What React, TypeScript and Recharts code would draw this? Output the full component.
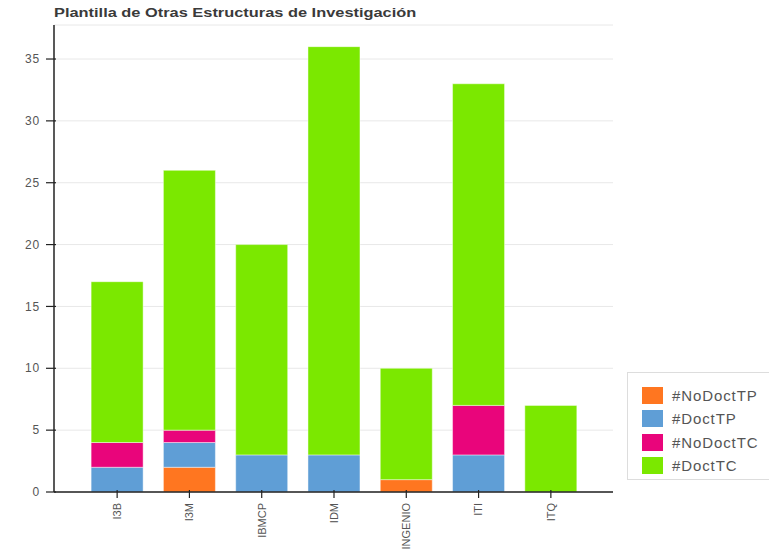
import React from "react";
import { BarChart, Bar, XAxis, YAxis, CartesianGrid, Legend } from "recharts";

const categories = ["I3B", "I3M", "IBMCP", "IDM", "INGENIO", "ITI", "ITQ"];
const noDoctTP = [0, 2, 0, 0, 1, 0, 0];
const doctTP = [2, 2, 3, 3, 0, 3, 0];
const noDoctTC = [2, 1, 0, 0, 0, 4, 0];
const doctTC = [13, 21, 17, 33, 9, 26, 7];
const yTicks = [0, 5, 10, 15, 20, 25, 30, 35];
const title = "Plantilla de Otras Estructuras de Investigación";

const series = [
  { key: "#NoDoctTP", values: noDoctTP, color: "#FF7620" },
  { key: "#DoctTP", values: doctTP, color: "#5F9ED6" },
  { key: "#NoDoctTC", values: noDoctTC, color: "#E9057B" },
  { key: "#DoctTC", values: doctTC, color: "#7BE800" },
];

const data = categories.map((c, i) => {
  const row: any = { name: c };
  series.forEach((s) => (row[s.key] = s.values[i]));
  return row;
});

const FONT = "'Liberation Sans', Arial, Helvetica, sans-serif";

const YTick = (props: any) => {
  const { x, y, payload } = props;
  return (
    <g>
      <line x1={x - 8} x2={x + 2} y1={y} y2={y} stroke="#222" strokeWidth={1.2} />
      <text x={x - 14} y={y} dy="0.35em" textAnchor="end" fontSize={12} fill="#555" fontFamily={FONT} letterSpacing={0.8}>
        {payload.value}
      </text>
    </g>
  );
};

const XTick = (props: any) => {
  const { x, y, payload } = props;
  const ty = y + 11;
  return (
    <g>
      <line x1={x} x2={x} y1={y - 2} y2={y + 6} stroke="#222" strokeWidth={1.2} />
      <text
        x={x}
        y={ty}
        dy="0.35em"
        textAnchor="end"
        fontSize={11}
        fill="#555"
        fontFamily={FONT}
        transform={`rotate(-90, ${x}, ${ty})`}
      >
        {payload.value}
      </text>
    </g>
  );
};

const LegendBox = () => (
  <div
    style={{
      border: "1px solid #ddd",
      width: 150,
      height: 108,
      boxSizing: "border-box",
      padding: "11px 0 0 14px",
      background: "#fff",
    }}
  >
    {series.map((s) => (
      <div key={s.key} style={{ display: "flex", alignItems: "center", height: 23.3 }}>
        <div style={{ width: 21, height: 17, background: s.color, marginRight: 9 }} />
        <span style={{ fontFamily: FONT, fontSize: 15, color: "#555", letterSpacing: 0.9 }}>{s.key}</span>
      </div>
    ))}
  </div>
);

export default function App() {
  return (
    <div style={{ position: "absolute", left: 0, top: 0, width: 769, height: 551, background: "#fff", overflow: "hidden" }}>
      <div
        style={{
          position: "absolute",
          left: 54,
          top: 5,
          fontFamily: FONT,
          fontWeight: "bold",
          fontSize: 13,
          color: "#3a3a3a",
          whiteSpace: "nowrap",
          transform: "scaleX(1.26)",
          transformOrigin: "left top",
        }}
      >
        {title}
      </div>
      <BarChart
        width={769}
        height={551}
        data={data}
        margin={{ top: 25, right: 6, bottom: 0, left: 0 }}
        barCategoryGap="14%"
      >
        <CartesianGrid vertical={false} stroke="#e8e8e8" />
        <XAxis
          dataKey="name"
          height={59}
          tickSize={0}
          tickMargin={0}
          tick={<XTick />}
          axisLine={{ stroke: "#222", strokeWidth: 1.5 }}
          tickLine={false}
          padding={{ left: 27, right: 26 }}
          interval={0}
        />
        <YAxis
          width={54}
          domain={[0, 37.75]}
          ticks={yTicks}
          tickSize={0}
          tickMargin={0}
          tick={<YTick />}
          axisLine={{ stroke: "#222", strokeWidth: 1.5 }}
          tickLine={false}
          allowDataOverflow
        />
        <Legend
          layout="vertical"
          align="right"
          verticalAlign="top"
          content={<LegendBox />}
          width={150}
          wrapperStyle={{ position: "absolute", left: 627, top: 372, width: 150, height: 108 }}
        />
        {series.map((s) => (
          <Bar
            key={s.key}
            dataKey={s.key}
            stackId="a"
            fill={s.color}
            stroke="rgba(255,255,255,0.45)"
            strokeWidth={1}
            isAnimationActive={false}
          />
        ))}
      </BarChart>
    </div>
  );
}
